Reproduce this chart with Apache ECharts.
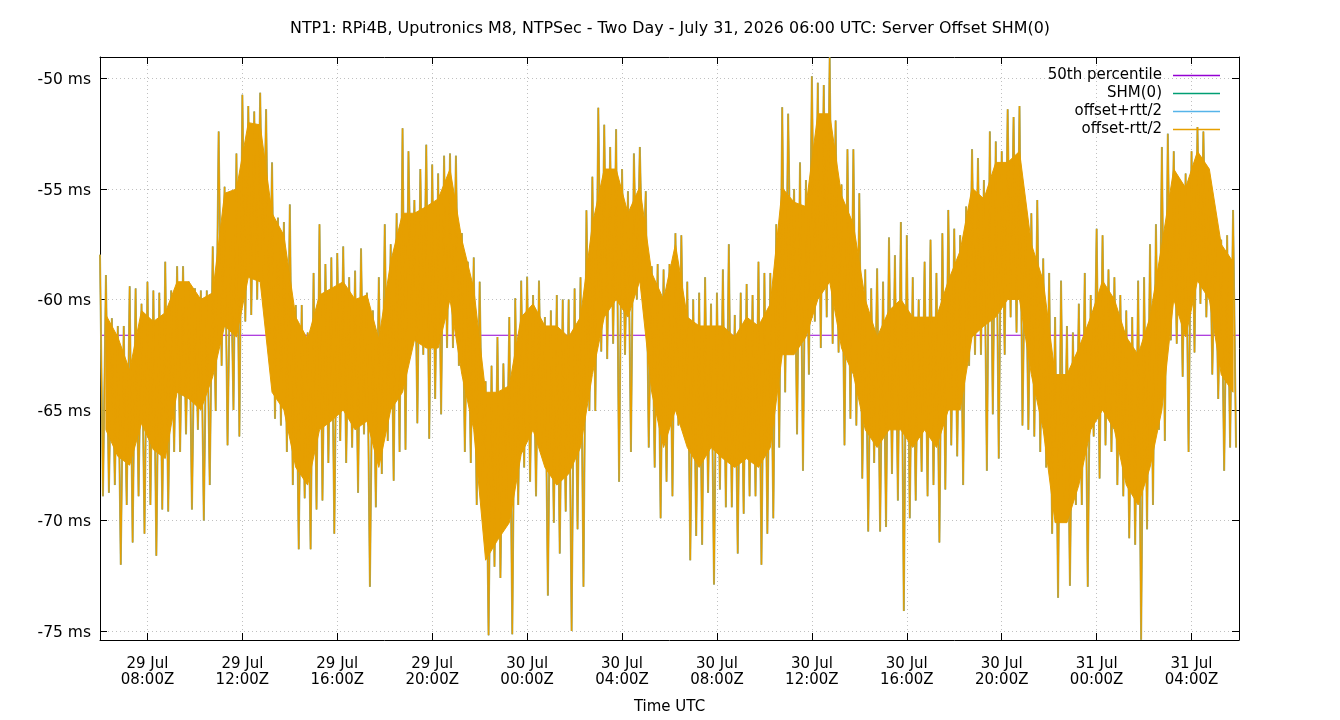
<!DOCTYPE html>
<html>
<head>
<meta charset="utf-8">
<script src="https://cdn.jsdelivr.net/npm/echarts@6/dist/echarts.min.js"></script>
<style>html,body{margin:0;padding:0;background:#fff}#c{width:1340px;height:720px}</style>
</head>
<body>
<div id="c"></div>
<script>
// ---- data (hours since 29 Jul 00:00 UTC; values in ms) ----
const titleText = "NTP1: RPi4B, Uputronics M8, NTPSec - Two Day - July 31, 2026 06:00 UTC: Server Offset SHM(0)";
const startHour = 6;          // 29 Jul 06:00Z
const endHour = 54;           // 31 Jul 06:00Z
const binHours = 0.25;        // 15-minute bins
const coreHours = 0.5;        // 30-minute core bins
const tickHours = [8, 12, 16, 20, 24, 28, 32, 36, 40, 44, 48, 52];
const yTicks = [-75, -70, -65, -60, -55, -50];
const yMin = -75.41, yMax = -49.03;
const p50 = -61.62;           // 50th percentile

// upper extremes per 15-min bin
const offsetHi = [
 -57.98,-58.9,-60.85,-61.2,-61.2,-59.4,-59.5,-60.2,-59.2,-59.6,-59.7,-58.3,-59.6,-58.5,-58.5,-59.2,-59.5,-59.6,-59.6,-57.6,-52.4,-54.9,-57.3,-53.4,
 -50.74,-51.25,-51.5,-50.65,-51.4,-53.8,-56.3,-56.5,-55.7,-60.25,-60.25,-61.5,-58.8,-56.6,-58.4,-58.1,-57.9,-57.6,-59.0,-58.7,-57.7,-59.7,-60.5,-59.0,
 -56.6,-57.5,-56.1,-52.25,-53.3,-55.5,-54.1,-53.0,-53.9,-54.3,-53.5,-53.4,-53.5,-57.0,-58.3,-58.1,-59.2,-63.7,-63.0,-61.7,-62.9,-60.8,-59.95,-59.15,
 -58.97,-59.8,-59.15,-60.8,-60.5,-59.8,-60.0,-60.0,-59.5,-59.0,-55.96,-54.45,-51.33,-52.1,-53.1,-52.3,-54.1,-55.1,-53.4,-53.1,-55.1,-58.5,-58.4,-58.65,
 -58.4,-57.0,-57.1,-59.2,-60.0,-59.7,-59.0,-60.2,-59.7,-58.65,-57.5,-60.7,-59.7,-59.3,-59.8,-58.3,-58.8,-58.8,-56.6,-51.3,-51.6,-55.0,-53.8,-54.6,
 -49.9,-50.2,-50.3,-49.05,-51.9,-54.8,-53.2,-53.2,-55.2,-58.65,-59.5,-58.6,-59.2,-57.2,-58.0,-56.5,-57.1,-59.0,-60.0,-58.3,-57.3,-58.8,-57.0,-55.95,
 -56.8,-57.1,-55.8,-53.2,-53.6,-54.6,-52.4,-52.85,-53.3,-51.4,-51.75,-51.25,-56.1,-56.1,-55.5,-58.15,-58.8,-60.8,-59.15,-61.2,-61.5,-60.2,-58.8,-59.8,
 -56.8,-57.1,-58.65,-59.0,-59.8,-60.5,-60.8,-59.15,-59.0,-57.5,-56.6,-53.1,-52.5,-53.3,-54.95,-54.3,-53.3,-52.2,-52.4,-54.6,-56.6,-57.3,-57.1,-55.95
];
// lower extremes per 15-min bin
const offsetLo = [
 -68.9,-68.75,-68.4,-72.0,-69.3,-71.0,-68.9,-70.6,-69.3,-71.6,-69.5,-69.6,-66.9,-66.9,-66.1,-69.5,-65.9,-70.0,-68.4,-65.05,-63.0,-66.6,-65.0,-66.2,
 -61.0,-60.7,-60.0,-59.3,-62.5,-65.4,-65.7,-66.9,-68.4,-71.3,-69.0,-71.3,-69.5,-69.1,-67.4,-70.6,-66.4,-67.4,-66.7,-68.75,-66.1,-73.0,-69.4,-67.9,
 -66.4,-68.2,-66.9,-66.8,-61.3,-65.6,-62.5,-66.3,-64.5,-65.2,-62.2,-62.2,-63.0,-66.9,-67.4,-69.3,-68.1,-75.2,-72.1,-72.6,-69.6,-75.15,-69.3,-67.6,
 -68.25,-68.9,-66.7,-73.4,-70.1,-71.5,-69.6,-75.0,-70.4,-73.0,-65.05,-65.05,-62.36,-62.7,-62.0,-68.25,-62.5,-66.9,-60.0,-59.5,-66.7,-67.6,-69.9,-68.25,
 -68.9,-65.7,-66.1,-71.8,-70.7,-71.1,-68.75,-72.9,-68.6,-69.4,-69.4,-71.5,-69.7,-68.9,-68.9,-72.0,-70.6,-69.9,-66.7,-64.2,-60.7,-66.1,-67.75,-63.4,
 -61.0,-62.2,-60.8,-62.0,-62.4,-66.6,-65.4,-65.7,-68.1,-70.5,-67.4,-70.5,-70.3,-67.9,-69.1,-74.1,-69.9,-69.1,-67.8,-68.9,-68.4,-71.0,-68.6,-66.6,
 -67.1,-68.4,-63.0,-62.5,-62.5,-67.75,-65.2,-67.2,-62.5,-60.8,-61.5,-65.7,-65.9,-66.2,-66.9,-67.6,-70.6,-73.5,-69.8,-72.95,-69.3,-69.3,-73.0,-66.2,
 -68.1,-66.6,-66.9,-68.4,-68.9,-70.8,-71.1,-75.4,-70.4,-69.3,-65.9,-66.4,-61.85,-62.0,-63.5,-66.9,-62.4,-60.2,-60.8,-63.4,-64.5,-67.75,-66.7,-66.7
];
// dense core band per 30-min bin
const coreHi = [
 -60.7,-61.7,-63.2,-60.5,-61.0,-60.6,-59.2,-59.2,-60.0,-59.7,-55.2,-55.0,
 -52.0,-52.1,-56.1,-57.1,-60.8,-61.8,-59.8,-59.5,-59.2,-60.0,-59.8,-61.8,
 -58.3,-56.1,-56.1,-55.8,-55.45,-54.1,-57.3,-59.5,-64.2,-64.2,-63.9,-60.8,
 -60.2,-61.2,-61.2,-61.7,-60.8,-56.6,-54.1,-54.1,-56.1,-54.9,-58.8,-60.0,
 -57.5,-60.8,-61.2,-61.2,-61.2,-61.7,-60.8,-61.2,-60.2,-54.95,-55.6,-55.8,
 -51.6,-51.6,-55.3,-56.6,-60.0,-61.7,-60.5,-60.0,-60.8,-60.8,-60.8,-59.15,
 -57.8,-54.95,-55.45,-53.8,-53.8,-53.3,-57.5,-59.15,-63.4,-63.4,-62.2,-60.8,
 -59.15,-60.0,-61.7,-62.5,-60.8,-57.5,-54.1,-54.95,-53.3,-54.1,-57.5,-58.3
];
const coreLo = [
 -65.9,-67.1,-67.5,-65.6,-66.8,-67.2,-64.2,-64.5,-65.0,-63.5,-61.2,-61.7,
 -59.0,-59.2,-64.2,-65.0,-67.6,-68.4,-65.9,-65.5,-65.0,-65.9,-65.5,-67.6,
 -65.0,-64.2,-61.85,-62.2,-62.2,-60.0,-63.4,-65.9,-71.8,-70.9,-70.1,-67.0,
 -65.9,-67.6,-68.4,-67.9,-66.7,-63.4,-60.8,-60.0,-60.8,-59.15,-64.2,-66.7,
 -65.0,-66.7,-67.6,-66.7,-67.2,-67.6,-67.2,-67.6,-66.7,-62.5,-62.5,-61.7,
 -60.0,-59.2,-62.2,-63.4,-65.9,-66.7,-65.9,-65.9,-66.7,-65.9,-66.7,-65.0,
 -65.0,-61.7,-61.2,-60.8,-60.0,-60.0,-63.4,-65.9,-70.1,-70.1,-68.4,-65.9,
 -65.0,-65.9,-68.4,-69.3,-67.6,-65.0,-60.0,-61.7,-59.15,-60.0,-63.4,-64.2
];

// ---- build the plotted trace (alternating upper / lower extreme in each bin) ----
const trace = [];
offsetHi.forEach((v, i) => {
  const t = startHour + i * binHours;
  trace.push([t, v]);
  trace.push([t + binHours / 2, offsetLo[i]]);
});
const coreX = coreHi.map((v, j) => startHour + j * coreHours + coreHours / 2);

const FONT = 'DejaVu Sans';
const chart = echarts.init(document.getElementById('c'), null, {renderer: 'canvas'});

function xLabel(h) {
  const day = 29 + Math.floor(h / 24);
  const hh = String(h % 24).padStart(2, '0');
  return day + ' Jul\n' + hh + ':00Z';
}

const gridLine = {show: true, lineStyle: {color: '#c0c0c0', width: 1, type: [1, 3]}};
const legendNames = ['50th percentile', 'SHM(0)', 'offset+rtt/2', 'offset-rtt/2'];
const legendTops = [68, 86, 104, 122];

const option = {
  animation: false,
  backgroundColor: '#fff',
  title: {
    text: titleText, left: 'center', top: 16,
    textStyle: {fontFamily: FONT, fontSize: 15.9, fontWeight: 'normal', color: '#000'}
  },
  legend: legendNames.map((n, k) => ({
    data: [n], orient: 'vertical', align: 'right', right: 120, top: legendTops[k], padding: 0,
    icon: 'rect', itemWidth: 47, itemHeight: 1.3, selectedMode: false,
    itemStyle: {opacity: 1},
    textStyle: {fontFamily: FONT, fontSize: 15, color: '#000', padding: [0, 6, 0, 0]}
  })),
  grid: {left: 100, right: 101, top: 57, bottom: 79, containLabel: false},
  xAxis: [{
    type: 'value', min: startHour, max: endHour,
    name: 'Time UTC', nameLocation: 'middle', nameGap: 60,
    nameTextStyle: {fontFamily: FONT, fontSize: 15, color: '#000'},
    axisLine: {show: true, onZero: false, lineStyle: {color: '#000', width: 1}},
    axisTick: {show: true, inside: true, length: 7, lineStyle: {color: '#000'}, customValues: tickHours},
    axisLabel: {show: true, customValues: tickHours, formatter: xLabel, margin: 16, lineHeight: 16,
      fontFamily: FONT, fontSize: 15, color: '#000'},
    splitLine: gridLine
  }, {
    type: 'value', min: startHour, max: endHour, position: 'top',
    axisLine: {show: true, onZero: false, lineStyle: {color: '#000', width: 1}},
    axisTick: {show: true, inside: true, length: 7, lineStyle: {color: '#000'}, customValues: tickHours},
    axisLabel: {show: false}, splitLine: {show: false}
  }],
  yAxis: [{
    type: 'value', min: yMin, max: yMax,
    axisLine: {show: true, onZero: false, lineStyle: {color: '#000', width: 1}},
    axisTick: {show: true, inside: true, length: 7, lineStyle: {color: '#000'}, customValues: yTicks},
    axisLabel: {show: true, customValues: yTicks, formatter: v => '{a|' + v + ' ms}', margin: 9,
      rich: {a: {fontFamily: FONT, fontSize: 15.5, color: '#000', padding: [4, 0, 0, 0]}}},
    splitLine: gridLine
  }, {
    type: 'value', min: yMin, max: yMax, position: 'right',
    axisLine: {show: true, onZero: false, lineStyle: {color: '#000', width: 1}},
    axisTick: {show: true, inside: true, length: 7, lineStyle: {color: '#000'}, customValues: yTicks},
    axisLabel: {show: false}, splitLine: {show: false}
  }],
  series: [
    {
      name: '50th percentile', type: 'line', symbol: 'none', z: 1,
      data: [[startHour, p50], [endHour, p50]],
      lineStyle: {color: '#9400d3', width: 1.2}, itemStyle: {color: '#9400d3'}
    },
    {
      name: 'SHM(0)', type: 'line', symbol: 'none', data: trace, z: 2,
      lineStyle: {color: '#a2ad76', width: 2.0}, itemStyle: {color: '#009e73'}
    },
    {
      name: 'offset+rtt/2', type: 'line', symbol: 'none', data: trace, z: 3,
      lineStyle: {color: '#56b4e9', width: 0.8}, itemStyle: {color: '#56b4e9'}
    },
    {
      name: 'core', type: 'custom', silent: true, clip: true, z: 4,
      data: [[startHour, p50]],
      renderItem: function (params, api) {
        const pts = [];
        for (let j = 0; j < coreHi.length; j++) pts.push(api.coord([coreX[j], coreHi[j]]));
        for (let j = coreLo.length - 1; j >= 0; j--) pts.push(api.coord([coreX[j], coreLo[j]]));
        return {type: 'polygon', shape: {points: pts}, style: {fill: '#e69f00', stroke: '#e69f00', lineWidth: 1}};
      }
    },
    {
      name: 'offset-rtt/2', type: 'line', symbol: 'none', data: trace, z: 5,
      lineStyle: {color: '#e69f00', width: 1.3}, itemStyle: {color: '#e69f00'}
    }
  ]
};
chart.setOption(option);
</script>
</body>
</html>
